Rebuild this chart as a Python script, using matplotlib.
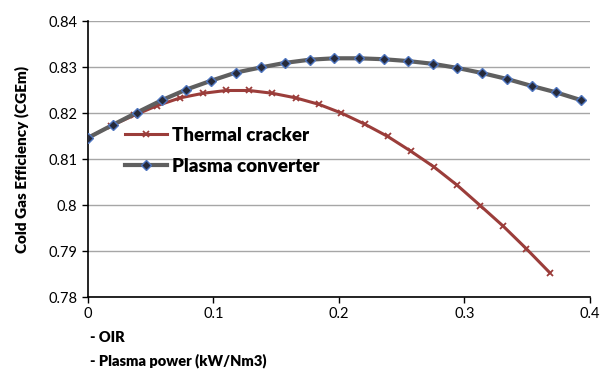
import numpy as np
import matplotlib
matplotlib.use("Agg")
import matplotlib.pyplot as plt

plt.rcParams['font.family'] = ['Lato', 'DejaVu Sans']

# values
plasma_x = [0.0, 0.0197, 0.039, 0.059, 0.0784, 0.098, 0.118, 0.1376, 0.157, 0.177, 0.1965,
            0.216, 0.2356, 0.255, 0.275, 0.2945, 0.314, 0.334, 0.3535, 0.373, 0.393]
plasma_y = [0.8146, 0.8174, 0.8201, 0.8228, 0.8251, 0.8270, 0.8288, 0.8299, 0.8309, 0.8316, 0.8319,
            0.8319, 0.8317, 0.8313, 0.8307, 0.8298, 0.8287, 0.8274, 0.8259, 0.8245, 0.8228]

thermal_x = [0.0, 0.0184, 0.0368, 0.0552, 0.0736, 0.092, 0.110, 0.1286, 0.147, 0.1655, 0.184,
             0.202, 0.2205, 0.239, 0.2574, 0.2757, 0.2943, 0.3126, 0.331, 0.3494, 0.368]
thermal_y = [0.8146, 0.8172, 0.8195, 0.8216, 0.8233, 0.8243, 0.8249, 0.8249, 0.8243, 0.8233, 0.8219,
             0.8200, 0.8176, 0.8149, 0.8117, 0.8083, 0.8043, 0.7999, 0.7954, 0.7905, 0.7853]

x_ticks = [0, 0.1, 0.2, 0.3, 0.4]
x_tick_labels = ["0", "0.1", "0.2", "0.3", "0.4"]
y_ticks = [0.78, 0.79, 0.80, 0.81, 0.82, 0.83, 0.84]
y_tick_labels = ["0.78", "0.79", "0.8", "0.81", "0.82", "0.83", "0.84"]

fig = plt.figure(figsize=(6.1, 3.69), dpi=100)
ax = fig.add_axes([0.144, 0.195, 0.823, 0.748])

ax.plot(thermal_x, thermal_y, color='#9b3d3a', lw=2.2, marker='x', ms=5, mew=1.3,
        label='Thermal cracker', zorder=3)
ax.plot(plasma_x, plasma_y, color='#5f5f5f', lw=3, marker='D', ms=5.5, mfc='#262a3a',
        mec='#4f76c0', mew=1, label='Plasma converter', zorder=4)

ax.set_xlim(0, 0.4)
ax.set_ylim(0.78, 0.84)
ax.set_xticks(x_ticks)
ax.set_xticklabels(x_tick_labels)
ax.set_yticks(y_ticks)
ax.set_yticklabels(y_tick_labels)
ax.tick_params(labelsize=10.5, direction='out', length=4, width=1, colors='black')
ax.yaxis.grid(True, color='#a6a6a6', lw=1)
ax.set_axisbelow(True)
for s in ['top', 'right']:
    ax.spines[s].set_visible(False)
for s in ['left', 'bottom']:
    ax.spines[s].set_linewidth(1.2)

ax.set_ylabel('Cold Gas Efficiency (CGEm)', fontsize=11, fontweight='heavy', labelpad=14)
fig.text(0.148, 0.085, '- OIR', fontsize=10.5, fontweight='heavy', ha='left', va='center')
fig.text(0.148, 0.022, '- Plasma power (kW/Nm3)', fontsize=10.5, fontweight='heavy',
         ha='left', va='center')

leg = ax.legend(loc='upper left', bbox_to_anchor=(0.06, 0.645), frameon=False,
                prop={'weight': 'heavy', 'size': 13.5}, handlelength=2.2,
                handletextpad=0.3, labelspacing=0.75, borderaxespad=0)

fig.savefig('out.png', dpi=100)
